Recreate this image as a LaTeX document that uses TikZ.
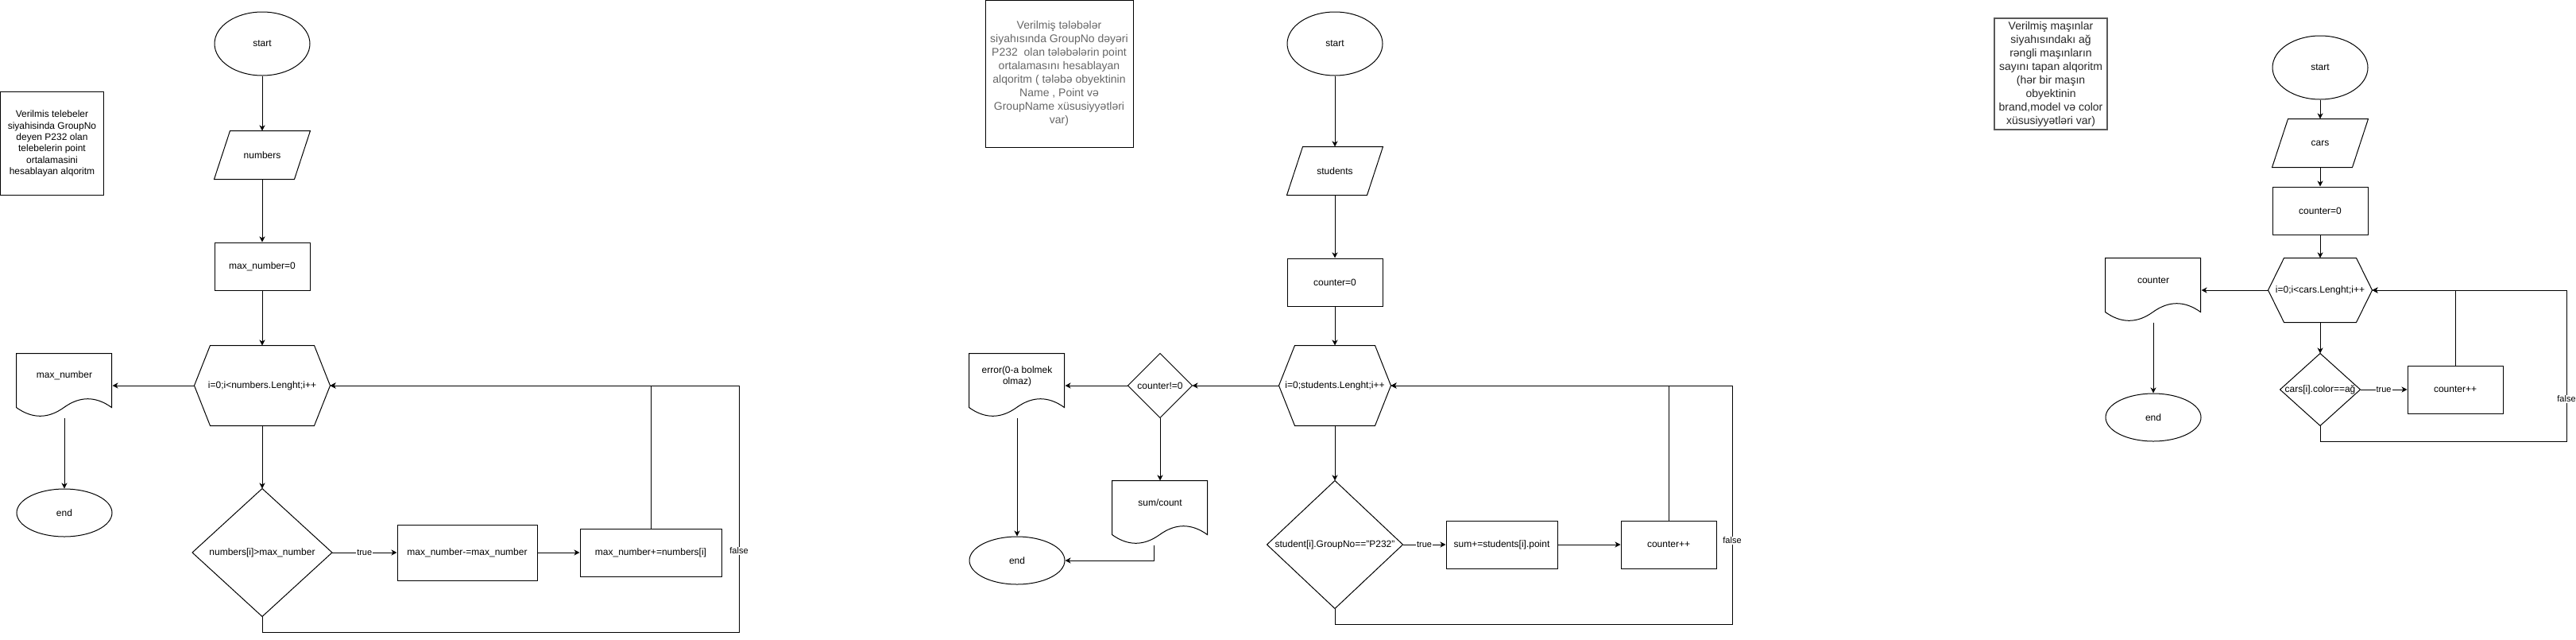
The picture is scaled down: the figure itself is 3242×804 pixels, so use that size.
\documentclass[tikz,border=0pt]{standalone}
\usepackage{fontspec}
\setmainfont{Liberation Sans}
\usetikzlibrary{shapes.geometric, arrows.meta, positioning, calc}

\newcommand{\hexout}[1]{\draw ([xshift=20pt]#1.north west) -- ([xshift=-20pt]#1.north east) -- (#1.east) -- ([xshift=-20pt]#1.south east) -- ([xshift=20pt]#1.south west) -- (#1.west) -- cycle;}
\newcommand{\paraout}[1]{\draw ([xshift=20pt]#1.north west) -- (#1.north east) -- ([xshift=-20pt]#1.south east) -- (#1.south west) -- cycle;}
\newcommand{\diaout}[1]{\draw (#1.north) -- (#1.east) -- (#1.south) -- (#1.west) -- cycle;}
\newcommand{\docout}[1]{\begin{scope}[shift={(#1.north west)}]
  \draw (0,0) -- (120,0) -- (120,68) .. controls (100,53.6) and (80,53.6) .. (60,68)
    .. controls (40,82.4) and (20,82.4) .. (0,68) -- cycle;
\end{scope}}

\begin{document}
\begin{tikzpicture}[x=1pt, y=-1pt, line width=1pt,
    every node/.style={font=\fontsize{12}{14.4}\selectfont, inner sep=0pt, align=center},
    flow/.style={-{Stealth[length=7pt, width=7pt, inset=2pt]}},
    term/.style 2 args={draw, ellipse, minimum width=#1, minimum height=#2},
    proc/.style 2 args={draw, rectangle, minimum width=#1, minimum height=#2},
    holder/.style 2 args={rectangle, minimum width=#1, minimum height=#2},
    note/.style 2 args={draw, rectangle, minimum width=#1, minimum height=#2, font=\fontsize{14}{17}\selectfont},
    lbl/.style={fill=white, font=\fontsize{11}{13}\selectfont, inner sep=1pt}]
  \useasboundingbox (0,0) rectangle (3242,804);

  % max number
  \node[note={130pt}{130pt}, font=\fontsize{12}{14.4}\selectfont] (note1) at (65.5,180.5) {Verilmis telebeler\\siyahisinda GroupNo\\deyen P232 olan\\telebelerin point\\ortalamasini\\hesablayan alqoritm};
  \node[term={120pt}{80pt}] (start1) at (330,55) {start};
  \node[holder={120pt}{60pt}] (num) at (330,195) {numbers};
  \node[proc={120pt}{60pt}] (max0) at (330,335) {max\_number=0};
  \node[holder={170pt}{100pt}] (loop1) at (330,485) {i=0;i<numbers.Lenght;i++};
  \node[holder={120pt}{80pt}] (out1) at (81,485) {};
  \node at ($(out1.north)+(0,28)$) {max\_number};
  \node[term={120pt}{60pt}] (end1) at (81,645) {end};
  \node[holder={175pt}{160pt}] (if1) at (330,695) {numbers[i]>max\_number};
  \node[proc={176pt}{70pt}] (set1) at (588,695) {max\_number-=max\_number};
  \node[proc={178pt}{60pt}] (add1) at (819,695) {max\_number+=numbers[i]};
  \paraout{num} \hexout{loop1} \diaout{if1} \docout{out1}
  \draw[flow] (start1) -- (num);
  \draw[flow] (num) -- (max0);
  \draw[flow] (max0) -- (loop1);
  \draw[flow] (loop1.west) -- (out1.east);
  \draw[flow] (out1) -- (end1);
  \draw[flow] (loop1) -- (if1);
  \draw[flow] (if1.east) -- node[lbl]{true} (set1);
  \draw[flow] (set1) -- (add1);
  \draw[flow] (add1.north) |- (loop1.east);
  \draw[flow] (if1.south) -- (330,795) -- (930,795) -- node[lbl, pos=0.33]{false} (930,485) -- (loop1.east);

  % average point
  \node[note={186pt}{185pt}, text=black!60] (note2) at (1333,92.5) {Verilmiş tələbələr\\siyahısında GroupNo dəyəri\\P232~ olan tələbələrin point\\ortalamasını hesablayan\\alqoritm ( tələbə obyektinin\\Name , Point və\\GroupName xüsusiyyətləri\\var)};
  \node[term={120pt}{80pt}] (start2) at (1680,55) {start};
  \node[holder={120pt}{60pt}] (stud) at (1680,215) {students};
  \node[proc={120pt}{60pt}] (cnt0) at (1680,355) {counter=0};
  \node[holder={140pt}{100pt}] (loop2) at (1680,485) {i=0;students.Lenght;i++};
  \node[holder={80pt}{80pt}] (chk) at (1460,485) {counter!=0};
  \node[holder={120pt}{80pt}] (err) at (1280,485) {};
  \node at ($(err.north)+(0,29)$) {error(0-a bolmek\\olmaz)};
  \node[term={120pt}{60pt}] (end2) at (1280,705) {end};
  \node[holder={120pt}{80pt}] (avg) at (1460,645) {};
  \node at ($(avg.north)+(0,28)$) {sum/count};
  \node[holder={170pt}{160pt}] (if2) at (1680,685) {student[i].GroupNo=="P232"};
  \node[proc={140pt}{60pt}] (sum) at (1890,685) {sum+=students[i].point};
  \node[proc={120pt}{60pt}] (inc2) at (2100,685) {counter++};
  \paraout{stud} \hexout{loop2} \diaout{chk} \diaout{if2} \docout{err} \docout{avg}
  \draw[flow] (start2) -- (stud);
  \draw[flow] (stud) -- (cnt0);
  \draw[flow] (cnt0) -- (loop2);
  \draw[flow] (loop2.west) -- (chk.east);
  \draw[flow] (chk.west) -- (err.east);
  \draw[flow] (chk.south) -- (avg.north);
  \draw[flow] (err) -- (end2);
  \draw[flow] ([xshift=-8pt]avg.south) |- (end2.east);
  \draw[flow] (loop2) -- (if2);
  \draw[flow] (if2.east) -- node[lbl]{true} (sum);
  \draw[flow] (sum) -- (inc2);
  \draw[flow] (inc2.north) |- (loop2.east);
  \draw[flow] (if2.south) -- (1680,785) -- (2180,785) -- node[lbl, pos=0.35]{false} (2180,485) -- (loop2.east);

  % white cars
  \node[note={142pt}{140pt}, draw=black!65, line width=1.4pt, text=black!85] (note3) at (2581,93) {Verilmiş maşınlar\\siyahısındakı ağ\\rəngli maşınların\\sayını tapan alqoritm\\(hər bir maşın\\obyektinin\\brand,model və color\\xüsusiyyətləri var)};
  \node[term={120pt}{80pt}] (start3) at (2920,85) {start};
  \node[holder={120pt}{60pt}] (cars) at (2920,180) {cars};
  \node[proc={120pt}{60pt}] (cnt3) at (2920,265) {counter=0};
  \node[holder={130pt}{80pt}] (loop3) at (2920,365) {i=0;i<cars.Lenght;i++};
  \node[holder={120pt}{80pt}] (out3) at (2710,365) {};
  \node at ($(out3.north)+(0,28)$) {counter};
  \node[term={120pt}{60pt}] (end3) at (2710,525) {end};
  \node[holder={100pt}{90pt}] (if3) at (2920,490) {cars[i].color==ağ};
  \node[proc={120pt}{60pt}] (inc3) at (3090,490) {counter++};
  \paraout{cars} \hexout{loop3} \diaout{if3} \docout{out3}
  \draw[flow] (start3) -- (cars);
  \draw[flow] (cars) -- (cnt3);
  \draw[flow] (cnt3) -- (loop3);
  \draw[flow] (loop3.west) -- (out3.east);
  \draw[flow] (out3) -- (end3);
  \draw[flow] (loop3) -- (if3);
  \draw[flow] (if3.east) -- node[lbl]{true} (inc3);
  \draw[flow] (inc3.north) |- (loop3.east);
  \draw[flow] (if3.south) -- (2920,555) -- (3230,555) -- node[lbl, pos=0.28]{false} (3230,365) -- (loop3.east);
\end{tikzpicture}
\end{document}
